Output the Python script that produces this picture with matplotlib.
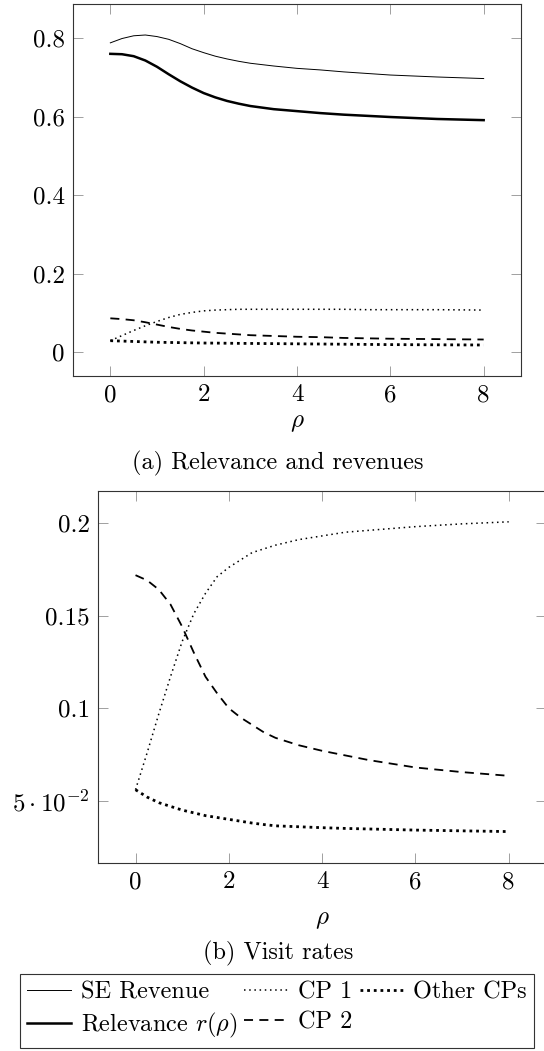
import matplotlib
matplotlib.use('Agg')
import matplotlib.pyplot as plt

plt.rcParams['font.family'] = ['cmr10', 'DejaVu Serif']
plt.rcParams['mathtext.fontset'] = 'cm'
plt.rcParams['axes.formatter.use_mathtext'] = True
plt.rcParams['axes.unicode_minus'] = False

# rho sample points shared by every series
rho = [0, 0.25, 0.5, 0.75, 1, 1.25, 1.5, 1.75, 2, 2.25, 2.5, 2.75, 3,
       3.5, 4, 4.5, 5, 5.5, 6, 7, 8]

# (a) relevance and revenues
se_revenue = [0.788, 0.799, 0.806, 0.808, 0.804, 0.797, 0.786, 0.773, 0.763,
              0.754, 0.747, 0.741, 0.736, 0.729, 0.723, 0.719, 0.714, 0.710,
              0.706, 0.701, 0.697]
relevance = [0.760, 0.759, 0.754, 0.743, 0.727, 0.708, 0.690, 0.674, 0.660,
             0.649, 0.640, 0.633, 0.627, 0.619, 0.614, 0.609, 0.605, 0.602,
             0.599, 0.594, 0.591]
cp1_rev = [0.029, 0.042, 0.055, 0.067, 0.078, 0.088, 0.096, 0.101, 0.105,
           0.107, 0.108, 0.109, 0.109, 0.109, 0.109, 0.109, 0.109, 0.108,
           0.108, 0.108, 0.107]
cp2_rev = [0.086, 0.084, 0.081, 0.076, 0.070, 0.064, 0.059, 0.055, 0.052,
           0.049, 0.047, 0.045, 0.043, 0.041, 0.039, 0.038, 0.036, 0.035,
           0.034, 0.033, 0.032]
other_rev = [0.029, 0.028, 0.027, 0.026, 0.025, 0.0245, 0.024, 0.0235, 0.023,
             0.0228, 0.0225, 0.0222, 0.022, 0.0215, 0.021, 0.0205, 0.020,
             0.0195, 0.019, 0.0185, 0.018]

# (b) visit rates
cp1_visit = [0.056, 0.076, 0.097, 0.117, 0.136, 0.151, 0.162, 0.171, 0.176,
             0.180, 0.184, 0.186, 0.188, 0.191, 0.193, 0.195, 0.196, 0.197,
             0.198, 0.1995, 0.2006]
cp2_visit = [0.1718, 0.169, 0.164, 0.156, 0.144, 0.130, 0.117, 0.108, 0.100,
             0.095, 0.091, 0.087, 0.084, 0.080, 0.077, 0.0745, 0.072, 0.070,
             0.068, 0.0655, 0.0635]
other_visit = [0.056, 0.052, 0.049, 0.047, 0.045, 0.0435, 0.042, 0.041, 0.040,
               0.039, 0.038, 0.0372, 0.0365, 0.036, 0.0355, 0.0351, 0.0348,
               0.0345, 0.0342, 0.0338, 0.0334]

x_ticks = [0, 2, 4, 6, 8]
top_yticks = [0, 0.2, 0.4, 0.6, 0.8]
top_ylabels = ['0', '0.2', '0.4', '0.6', '0.8']
bot_yticks = [0.05, 0.1, 0.15, 0.2]
bot_ylabels = [r'$5\cdot10^{-2}$', '0.1', '0.15', '0.2']

FS = 18

styles = {
    'se': dict(color='k', lw=0.7, ls='-'),
    'rel': dict(color='k', lw=1.8, ls='-'),
    'cp1': dict(color='k', lw=1.1, ls=(0, (1, 2.4))),
    'cp2': dict(color='k', lw=1.3, ls=(0, (5, 3.5))),
    'other': dict(color='k', lw=2.0, ls=(0, (1, 1.4))),
}

fig = plt.figure(figsize=(5.44, 10.51), dpi=100, facecolor='white')
ax_a = fig.add_axes([73 / 544, 1 - 376 / 1051, 448 / 544, 372 / 1051])
ax_b = fig.add_axes([98.2 / 544, 1 - 862.7 / 1051, 447.8 / 544, 372 / 1051])


def style_axes(ax):
    ax.set_xlim(-0.8, 8.8)
    ax.set_xticks(x_ticks)
    ax.set_xticklabels([str(t) for t in x_ticks])
    ax.tick_params(direction='in', length=7.2, width=0.7, color='#a0a0a0',
                   labelcolor='k', labelsize=FS, pad=6,
                   top=True, right=True)
    for sp in ax.spines.values():
        sp.set_color('#333333')
        sp.set_linewidth(0.8)


# (a)
h_se, = ax_a.plot(rho, se_revenue, label='SE Revenue', **styles['se'])
h_rel, = ax_a.plot(rho, relevance, label=r'Relevance $r(\rho)$', **styles['rel'])
h_cp1, = ax_a.plot(rho, cp1_rev, label='CP 1', **styles['cp1'])
h_cp2, = ax_a.plot(rho, cp2_rev, label='CP 2', **styles['cp2'])
h_oth, = ax_a.plot(rho, other_rev, label='Other CPs', **styles['other'])
style_axes(ax_a)
ax_a.set_ylim(-0.061, 0.887)
ax_a.set_yticks(top_yticks)
ax_a.set_yticklabels(top_ylabels)
ax_a.set_xlabel(r'$\rho$', fontsize=FS, labelpad=4)

# (b)
ax_b.plot(rho, cp1_visit, **styles['cp1'])
ax_b.plot(rho, cp2_visit, **styles['cp2'])
ax_b.plot(rho, other_visit, **styles['other'])
style_axes(ax_b)
ax_b.set_ylim(0.0166, 0.2174)
ax_b.set_yticks(bot_yticks)
ax_b.set_yticklabels(bot_ylabels)
ax_b.set_xlabel(r'$\rho$', fontsize=FS, labelpad=11)

fig.text(278 / 544, 1 - 463 / 1051, '(a) Relevance and revenues',
         ha='center', va='center', fontsize=17.5)
fig.text(278 / 544, 1 - 953 / 1051, '(b) Visit rates',
         ha='center', va='center', fontsize=17.5)

leg = fig.legend(handles=[h_se, h_rel, h_cp1, h_cp2, h_oth], ncol=3,
                 loc='center', bbox_to_anchor=(277 / 544, 1 - 1011 / 1051),
                 fontsize=17.5, frameon=True, fancybox=False, framealpha=1,
                 edgecolor='#333333', handlelength=1.8, handletextpad=0.4,
                 columnspacing=0.3, labelspacing=0.3, borderpad=0.3)
leg.get_frame().set_linewidth(0.8)

fig.savefig('out.png', dpi=100, facecolor='white')
